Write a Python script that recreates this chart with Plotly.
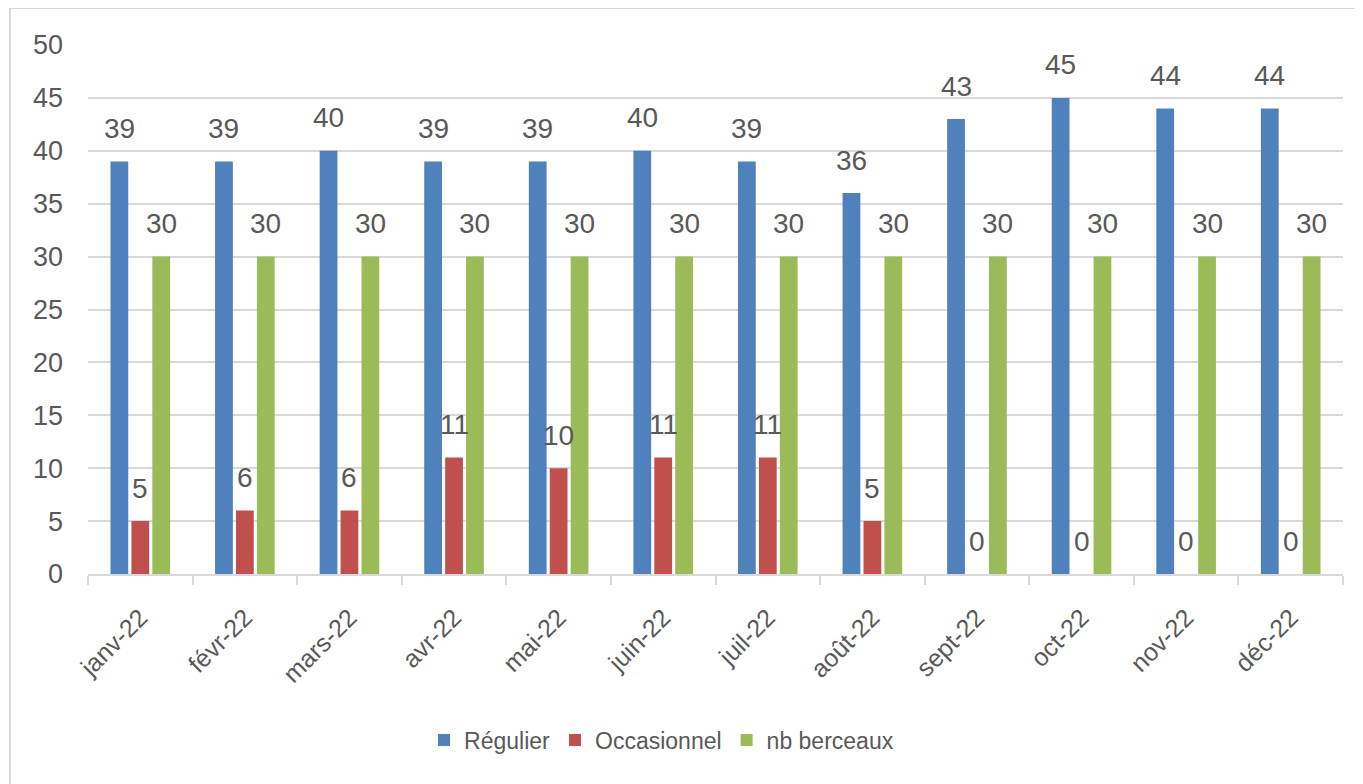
import plotly.graph_objects as go

months = ["janv-22", "févr-22", "mars-22", "avr-22", "mai-22", "juin-22",
          "juil-22", "août-22", "sept-22", "oct-22", "nov-22", "déc-22"]
regulier = [39, 39, 40, 39, 39, 40, 39, 36, 43, 45, 44, 44]
occasionnel = [5, 6, 6, 11, 10, 11, 11, 5, 0, 0, 0, 0]
berceaux = [30, 30, 30, 30, 30, 30, 30, 30, 30, 30, 30, 30]

series = [("Régulier", regulier, "#4F81BD"),
          ("Occasionnel", occasionnel, "#C0504D"),
          ("nb berceaux", berceaux, "#9BBB59")]

# page body has an 8px margin; compensate so the plot area sits where the reference has it
W, H = 1355, 776
ML, MR, MT, MB = 80, 20, 37, 210
BARGAP = 0.4
FONT = "Liberation Sans"
TXT = "#595959"

fig = go.Figure()
for name, vals, col in series:
    fig.add_trace(go.Bar(x=months, y=vals, name=name, marker_color=col,
                         marker_line_width=0))

plot_w = W - ML - MR
plot_h = H - MT - MB
slot = plot_w / len(months) * (1 - BARGAP) / len(series)
annotations = []
for i, (name, vals, col) in enumerate(series):
    for m, v in zip(months, vals):
        annotations.append(dict(x=m, y=v, text=str(v), showarrow=False,
                                xref="x", yref="y", yshift=33,
                                xshift=(i - 1) * slot,
                                font=dict(family=FONT, size=28, color=TXT)))

fig.update_layout(
    width=W, height=H,
    margin=dict(l=ML, r=MR, t=MT, b=MB),
    paper_bgcolor="white", plot_bgcolor="white",
    barmode="group", bargap=BARGAP, bargroupgap=0.15,
    font=dict(family=FONT, size=23, color=TXT),
    showlegend=True,
    legend=dict(orientation="h", x=0.457, xanchor="center", y=-0.314,
                yanchor="middle", font=dict(size=23, color=TXT),
                itemwidth=30, traceorder="normal"),
    annotations=annotations,
    shapes=[dict(type="rect", xref="paper", yref="paper",
                 x0=-78 / plot_w, x1=1.2,
                 y0=-0.6, y1=1 + 37 / plot_h,
                 line=dict(color="#D9D9D9", width=2), layer="below")],
)
fig.update_xaxes(showgrid=False, showline=True, linecolor="#D9D9D9", linewidth=2,
                 ticks="outside", tickson="boundaries", ticklen=9,
                 tickcolor="#D9D9D9", tickwidth=2, tickangle=-45,
                 ticklabelstandoff=17,
                 tickfont=dict(size=25, color=TXT))
fig.update_yaxes(range=[0, 50], dtick=5, showgrid=True, gridcolor="#D9D9D9",
                 gridwidth=2, zeroline=False, showline=False, ticks="",
                 ticklabelstandoff=24, tickfont=dict(size=27, color=TXT))

fig.write_html("out.html")
